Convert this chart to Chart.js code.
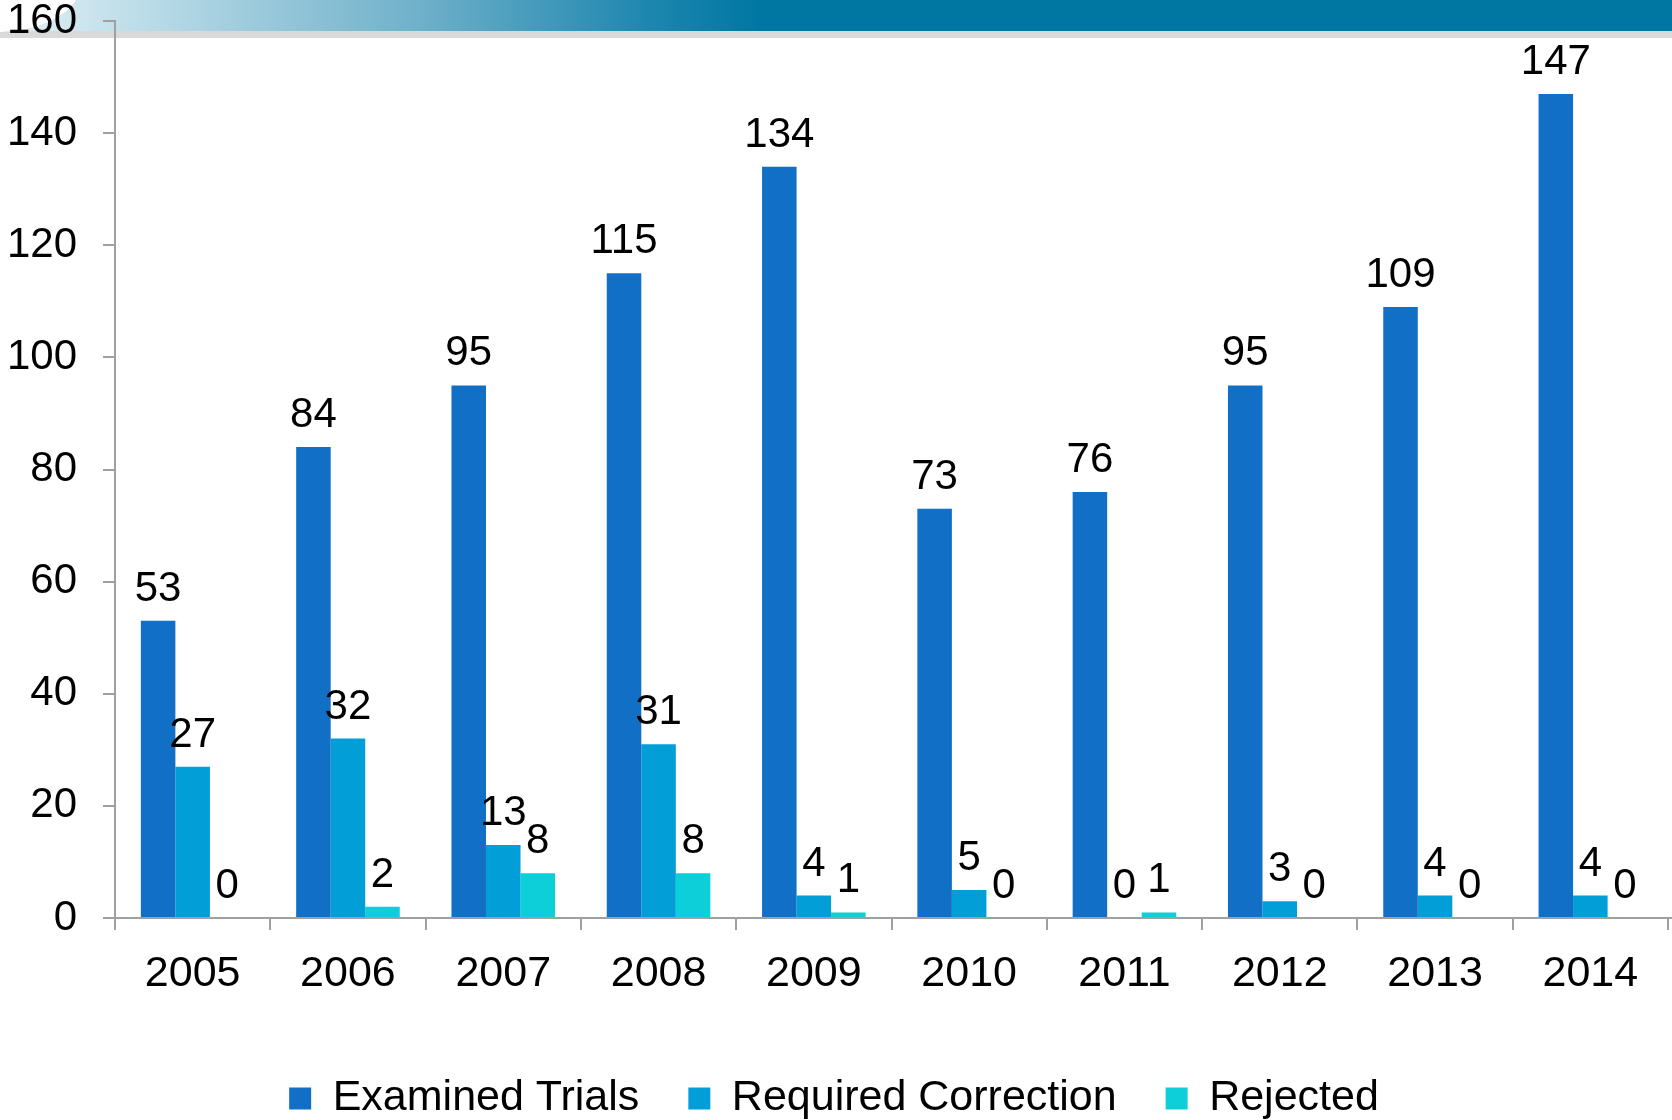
<!DOCTYPE html>
<html>
<head>
<meta charset="utf-8">
<script src="https://cdn.jsdelivr.net/npm/chart.js@4.4.1/dist/chart.umd.min.js"></script>
<style>
  html, body { margin: 0; padding: 0; background: #fff; }
  #wrap { position: relative; width: 1672px; height: 1120px; overflow: hidden; }
  .band { position: absolute; left: 0; top: 0; width: 1672px; height: 31px;
          background: linear-gradient(to right, #e4f1f6 0px, #b9dbe7 150px, #6fb0ca 420px, #1d86ae 650px, #0077a3 760px, #0077a3 1672px); }
  .stripe { position: absolute; left: 0; top: 31px; width: 1672px; height: 7px; background: #d9d9d9; }
  .corner { position: absolute; left: -90px; top: -60px; width: 170px; height: 92px; border-radius: 50%; background: #fff; }
  canvas { position: absolute; left: 0; top: 0; }
</style>
</head>
<body>
<div id="wrap">
  <div class="band"></div>
  <div class="stripe"></div>
  <div class="corner"></div>
  <canvas id="trialsChart" width="1672" height="1130"></canvas>
</div>
<script>
// 年份與三個系列
const years = ['2005', '2006', '2007', '2008', '2009', '2010', '2011', '2012', '2013', '2014'];
const examinedTrials = [53, 84, 95, 115, 134, 73, 76, 95, 109, 147];
const requiredCorrection = [27, 32, 13, 31, 4, 5, 0, 3, 4, 4];
const rejected = [0, 2, 8, 8, 1, 0, 1, 0, 0, 0];
const yTicks = [0, 20, 40, 60, 80, 100, 120, 140, 160];

const FONT = 'Liberation Sans, Arial, sans-serif';
const AXIS_GREY = '#a0a0a0';

// 在每根柱子上方寫數值
const valueLabels = {
  id: 'valueLabels',
  afterDatasetsDraw(chart) {
    const ctx = chart.ctx;
    ctx.save();
    ctx.font = '42px ' + FONT;
    ctx.fillStyle = '#000';
    ctx.textAlign = 'center';
    ctx.textBaseline = 'alphabetic';
    chart.data.datasets.forEach((ds, i) => {
      const meta = chart.getDatasetMeta(i);
      meta.data.forEach((bar, j) => {
        ctx.fillText(String(ds.data[j]), bar.x, bar.y - 20);
      });
    });
    ctx.restore();
  }
};

// x 軸線延伸到畫面右緣
const axisExtend = {
  id: 'axisExtend',
  afterDraw(chart) {
    const { ctx, chartArea } = chart;
    ctx.save();
    ctx.strokeStyle = AXIS_GREY;
    ctx.lineWidth = 2;
    ctx.beginPath();
    ctx.moveTo(chartArea.right, chartArea.bottom);
    ctx.lineTo(chart.width, chartArea.bottom);
    ctx.stroke();
    ctx.restore();
  }
};

new Chart(document.getElementById('trialsChart').getContext('2d'), {
  type: 'bar',
  data: {
    labels: years,
    datasets: [
      { label: 'Examined Trials', data: examinedTrials, backgroundColor: '#1170c6' },
      { label: 'Required Correction', data: requiredCorrection, backgroundColor: '#029ed8' },
      { label: 'Rejected', data: rejected, backgroundColor: '#0dcfd9' }
    ]
  },
  options: {
    responsive: false,
    animation: false,
    layout: { padding: { top: 21, right: 4, bottom: 0, left: 0 } },
    datasets: {
      bar: { categoryPercentage: 0.667, barPercentage: 1.0, borderWidth: 0 }
    },
    plugins: {
      legend: {
        position: 'bottom',
        labels: {
          font: { family: FONT, size: 43 },
          color: '#000',
          boxWidth: 22,
          boxHeight: 22,
          padding: 49
        }
      },
      tooltip: { enabled: false }
    },
    scales: {
      x: {
        grid: { display: true, drawOnChartArea: false, offset: true, tickLength: 12, color: AXIS_GREY, lineWidth: 2 },
        border: { color: AXIS_GREY, width: 2 },
        ticks: { font: { family: FONT, size: 43 }, color: '#000', padding: 18, maxRotation: 0 },
        afterFit(scale) { scale.height = 110; }
      },
      y: {
        min: 0,
        max: 160,
        afterBuildTicks(scale) { scale.ticks = yTicks.map(v => ({ value: v })); },
        grid: { display: true, drawOnChartArea: false, tickLength: 12, color: AXIS_GREY, lineWidth: 2 },
        border: { color: AXIS_GREY, width: 2 },
        ticks: { font: { family: FONT, size: 42, lineHeight: 1 }, color: '#000', padding: 26 },
        afterFit(scale) { scale.width = 115; scale.paddingTop = 0; scale.paddingBottom = 0; }
      }
    }
  },
  plugins: [valueLabels, axisExtend]
});
</script>
</body>
</html>
